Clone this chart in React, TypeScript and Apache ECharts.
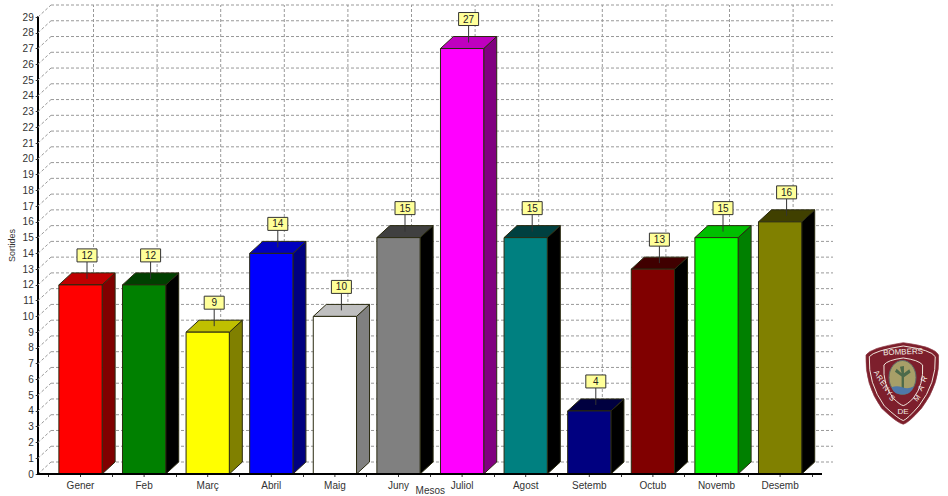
import React, { useEffect, useRef } from "react";
import * as echarts from "echarts";

const months = ["Gener", "Feb", "Març", "Abril", "Maig", "Juny", "Juliol", "Agost", "Setemb", "Octub", "Novemb", "Desemb"];
const sortides = [12, 12, 9, 14, 10, 15, 27, 15, 4, 13, 15, 16];
const frontColors = ["#ff0000", "#008000", "#ffff00", "#0000ff", "#ffffff", "#808080", "#ff00ff", "#008080", "#000080", "#800000", "#00ff00", "#808000"];
const topColors = ["#bf0000", "#004000", "#bfbf00", "#0000bf", "#bfbfbf", "#404040", "#bf00bf", "#004040", "#000040", "#400000", "#00bf00", "#404000"];
const sideColors = ["#800000", "#000000", "#808000", "#000080", "#808080", "#000000", "#800080", "#000000", "#000000", "#000000", "#008000", "#000000"];
const yLevels = Array.from({ length: 30 }, (_, i) => i);

const DX = 13;
const DY = 12;
const FONT = "Liberation Sans";
const WALL = "#999999";

const shieldOuter = "M48 75 Q62 53 160 38 Q255 50 266 75 Q272 160 215 235 Q175 280 160 283 Q142 280 95 235 Q44 165 48 75 Z";
const shieldRing = "M58 80 Q72 62 160 48 Q245 60 256 80 Q260 160 207 228 Q172 268 160 272 Q146 268 103 228 Q54 160 58 80 Z";
const shieldInner = "M102 105 Q112 90 160 84 Q206 90 218 105 Q222 165 190 205 Q170 225 160 227 Q150 225 130 205 Q98 165 102 105 Z";
const waves = "M125 172 Q140 166 157 172 Q175 178 190 170 Q188 182 176 190 Q158 196 138 190 Q128 184 125 172 Z";
const tree = "M155 178 L155 140 L135 125 L140 116 L155 130 L150 110 L162 108 L162 130 L178 118 L182 128 L162 142 L162 178 Z";

echarts.graphic.registerShape("shieldOuter", echarts.graphic.extendPath(shieldOuter, {}) as any);
echarts.graphic.registerShape("shieldRing", echarts.graphic.extendPath(shieldRing, {}) as any);
echarts.graphic.registerShape("shieldInner", echarts.graphic.extendPath(shieldInner, {}) as any);
echarts.graphic.registerShape("shieldWaves", echarts.graphic.extendPath(waves, {}) as any);
echarts.graphic.registerShape("shieldTree", echarts.graphic.extendPath(tree, {}) as any);

function logoWord(text: string, x: number, y: number, rotation: number, size = 7.5) {
  return {
    type: "text",
    x,
    y,
    rotation,
    style: { text, fill: "#f4efe6", font: `${size}px "${FONT}"`, align: "center", verticalAlign: "middle" },
  };
}

function logoPath(type: string, style: any) {
  return { type, x: 850, y: 330, scaleX: 1 / 3, scaleY: 1 / 3, style };
}

export default function App() {
  const ref = useRef<HTMLDivElement>(null);

  useEffect(() => {
    const chart = echarts.init(ref.current!, undefined, { renderer: "svg" });
    const dash = { stroke: WALL, lineWidth: 1, lineDash: [3, 2] };

    chart.setOption({
      animation: false,
      backgroundColor: "#ffffff",
      grid: { left: 48.7, top: 17, width: 763.2, height: 457, outerBoundsMode: "none" },
      xAxis: {
        type: "category",
        data: months,
        name: "Mesos",
        nameLocation: "middle",
        nameGap: 11,
        nameMoveOverlap: false,
        nameTextStyle: { fontFamily: FONT, fontSize: 10, color: "#333333" },
        axisLine: { show: false },
        axisTick: { show: true, length: 3, lineStyle: { color: "#333333" } },
        axisLabel: { fontFamily: FONT, fontSize: 10, color: "#333333", margin: 6, interval: 0 },
        splitLine: { show: false },
      },
      yAxis: {
        type: "value",
        min: 0,
        max: 29,
        interval: 1,
        offset: 11,
        name: "Sortides",
        nameLocation: "middle",
        nameGap: 21,
        nameMoveOverlap: false,
        nameRotate: 90,
        nameTextStyle: { fontFamily: FONT, fontSize: 9, color: "#333333" },
        axisLine: { show: true, lineStyle: { color: "#000000", width: 2 } },
        axisTick: { show: true, length: 2, lineStyle: { color: "#333333" } },
        axisLabel: { fontFamily: FONT, fontSize: 10, color: "#333333", margin: 4 },
        splitLine: { show: false },
      },
      series: [
        {
          type: "custom",
          name: "levels",
          silent: true,
          z: 1,
          clip: false,
          data: yLevels.map((v) => [0, v]),
          encode: { x: 0, y: 1 },
          renderItem: (_: any, api: any) => {
            const p = api.coord([0, api.value(1)]);
            const left = 38;
            return {
              type: "group",
              children: [
                { type: "line", shape: { x1: left, y1: p[1], x2: left + DX, y2: p[1] - DY }, style: dash },
                { type: "line", shape: { x1: left + DX, y1: p[1] - DY, x2: 833, y2: p[1] - DY }, style: dash },
              ],
            };
          },
        },
        {
          type: "custom",
          name: "columns",
          silent: true,
          z: 1,
          clip: false,
          data: months.map((_, i) => [i, 0]),
          encode: { x: 0, y: 1 },
          renderItem: (_: any, api: any) => {
            const base = api.coord([api.value(0), 0]);
            const top = api.coord([api.value(0), 29]);
            return {
              type: "group",
              children: [
                { type: "line", shape: { x1: base[0] + DX, y1: base[1] - DY, x2: top[0] + DX, y2: top[1] - DY }, style: dash },
                { type: "line", shape: { x1: base[0], y1: base[1], x2: base[0], y2: base[1] + 3 }, style: { stroke: "#333333", lineWidth: 1 } },
              ],
            };
          },
        },
        {
          type: "custom",
          name: "bars",
          silent: true,
          z: 3,
          clip: false,
          data: sortides.map((v, i) => [i, v]),
          encode: { x: 0, y: 1 },
          renderItem: (params: any, api: any) => {
            const i = params.dataIndex;
            const t = api.coord([api.value(0), api.value(1)]);
            const b = api.coord([api.value(0), 0]);
            const w = api.size([1, 0])[0] * 0.68;
            const x0 = t[0] - w / 2;
            const x1 = t[0] + w / 2;
            const edge = { stroke: "#2a2a10", lineWidth: 1 };
            const boxCx = t[0] + 6.5;
            return {
              type: "group",
              children: [
                {
                  type: "polygon",
                  shape: { points: [[x1, b[1]], [x1 + DX, b[1] - DY], [x1 + DX, t[1] - DY], [x1, t[1]]] },
                  style: { fill: sideColors[i], ...edge },
                },
                {
                  type: "polygon",
                  shape: { points: [[x0, t[1]], [x0 + DX, t[1] - DY], [x1 + DX, t[1] - DY], [x1, t[1]]] },
                  style: { fill: topColors[i], ...edge },
                },
                {
                  type: "rect",
                  shape: { x: x0, y: t[1], width: w, height: b[1] - t[1] },
                  style: { fill: frontColors[i], ...edge },
                },
                { type: "line", shape: { x1: boxCx, y1: t[1] - 6, x2: boxCx, y2: t[1] - 23 }, style: { stroke: "#333333", lineWidth: 1 } },
                {
                  type: "rect",
                  shape: { x: boxCx - 10, y: t[1] - 36, width: 20, height: 13 },
                  style: { fill: "#ffff99", stroke: "#333333", lineWidth: 1 },
                },
                {
                  type: "text",
                  x: boxCx,
                  y: t[1] - 29.5,
                  style: {
                    text: String(api.value(1)),
                    fill: "#222222",
                    font: `10px "${FONT}"`,
                    align: "center",
                    verticalAlign: "middle",
                  },
                },
              ],
            };
          },
        },
        {
          type: "custom",
          name: "baseline",
          silent: true,
          z: 4,
          clip: false,
          data: [[0, 0]],
          encode: { x: 0, y: 1 },
          renderItem: (_: any, api: any) => {
            const p = api.coord([0, 0]);
            return {
              type: "line",
              shape: { x1: 37, y1: p[1], x2: 822, y2: p[1] },
              style: { stroke: "#000000", lineWidth: 2 },
            };
          },
        },
      ],
      graphic: [
        {
          type: "group",
          silent: true,
          children: [
            logoPath("shieldOuter", { fill: "#7d1f2c", stroke: "#8c3a44", lineWidth: 2 }),
            logoPath("shieldRing", { fill: "none", stroke: "#f0e6dc", lineWidth: 3 }),
            logoPath("shieldInner", { fill: "none", stroke: "#f0e6dc", lineWidth: 3 }),
            { type: "ellipse", shape: { cx: 902.5, cy: 377.5, rx: 13.5, ry: 17 }, style: { fill: "#a79f68", stroke: "#5d6a6a", lineWidth: 1 } },
            logoPath("shieldTree", { fill: "#4c6a4a" }),
            logoPath("shieldWaves", { fill: "#4f78a8" }),
            logoWord("BOMBERS", 903, 352, 0.04, 8),
            logoWord("A", 877, 373, -0.95),
            logoWord("R", 880, 378, -0.9),
            logoWord("E", 883, 383, -0.85),
            logoWord("N", 886, 388, -0.8),
            logoWord("Y", 889, 393, -0.75),
            logoWord("S", 892, 398, -0.7),
            logoWord("DE", 903, 411, 0, 8),
            logoWord("M", 917, 398, 0.9),
            logoWord("A", 921, 388, 1.0),
            logoWord("R", 924, 379, 1.1),
          ],
        },
      ],
    });

    return () => chart.dispose();
  }, []);

  return <div ref={ref} style={{ position: "absolute", left: 0, top: 0, width: 948, height: 496, overflow: "hidden" }} />;
}
